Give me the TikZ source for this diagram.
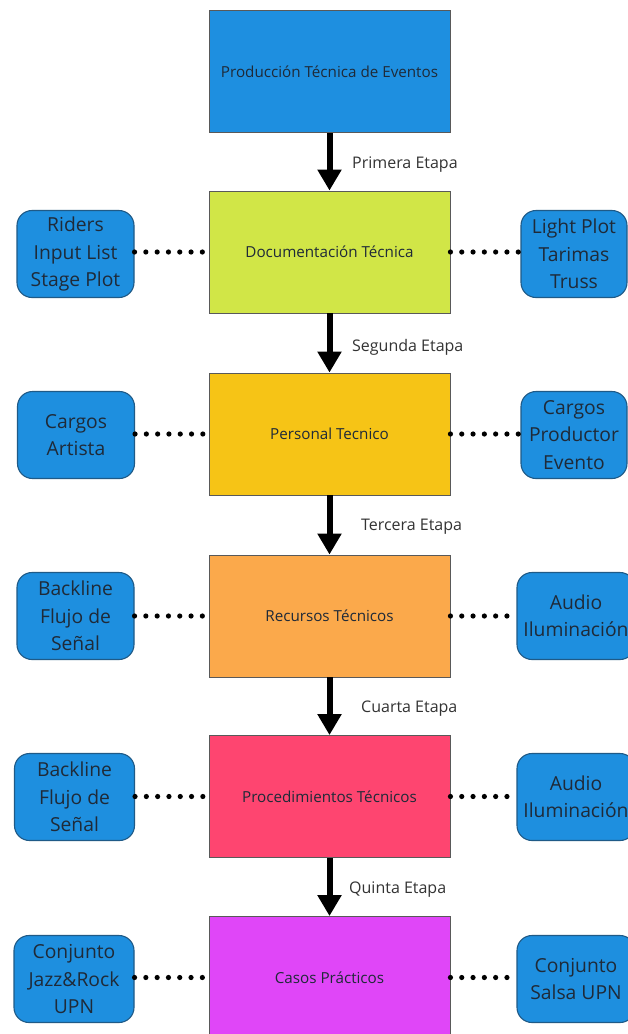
\documentclass[tikz,border=0pt]{standalone}
\usepackage{fontspec}
\setmainfont{Open Sans}
\usetikzlibrary{arrows.meta}
\definecolor{cA}{HTML}{1E8FE0}
\definecolor{cB}{HTML}{D1E647}
\definecolor{cC}{HTML}{F6C416}
\definecolor{cD}{HTML}{FBA94B}
\definecolor{cE}{HTML}{FE4570}
\definecolor{cF}{HTML}{E046F8}
\definecolor{side}{HTML}{1E8FDF}
\definecolor{sideline}{HTML}{1F5A87}
\definecolor{txt}{HTML}{1F2A38}
\tikzset{
  mainbox/.style={draw=black!65, line width=0.9pt, minimum width=241pt, minimum height=122pt, inner sep=0pt, text=txt, font=\fontsize{15.2}{18}\selectfont},
  sidebox/.style={draw=sideline, fill=side, line width=1.1pt, rounded corners=15pt, minimum height=87pt, inner sep=0pt, align=center, text=txt, font=\fontsize{19.3}{27.5}\selectfont},
  lbl/.style={anchor=west, inner sep=0pt, text=black!80, font=\fontsize{16}{18}\selectfont},
  bigarrow/.style={line width=6pt, -{Triangle[width=23pt,length=21pt]}},
  dotline/.style={line width=5.2pt, line cap=round, dash pattern=on 0pt off 11.3pt}
}
\begin{document}
\begin{tikzpicture}[x=1pt,y=1pt]
\path[use as bounding box] (0,0) rectangle (628,-1034);
\clip (0,0) rectangle (628,-1034);
\fill[white] (0,0) rectangle (628,-1034);
% main boxes
\node[mainbox, fill=cA] (m1) at (329.5,-71.5) {Producción Técnica de Eventos};
\node[mainbox, fill=cB] (m2) at (329.5,-252) {Documentación Técnica};
\node[mainbox, fill=cC] (m3) at (329.5,-434) {Personal Tecnico};
\node[mainbox, fill=cD] (m4) at (329.5,-616) {Recursos Técnicos};
\node[mainbox, fill=cE] (m5) at (329.5,-796.5) {Procedimientos Técnicos};
\node[mainbox, fill=cF] (m6) at (329.5,-977.5) {Casos Prácticos};
% arrows
\draw[bigarrow] (m1.south) -- (m2.north);
\draw[bigarrow] (m2.south) -- (m3.north);
\draw[bigarrow] (m3.south) -- (m4.north);
\draw[bigarrow] (m4.south) -- (m5.north);
\draw[bigarrow] (m5.south) -- (m6.north);
% stage labels
\node[lbl] (e1) at (352,-165) {Primera Etapa};
\node[lbl] (e2) at (352,-347) {Segunda Etapa};
\node[lbl] (e3) at (361,-527) {Tercera Etapa};
\node[lbl] (e4) at (361,-709) {Cuarta Etapa};
\node[lbl] (e5) at (349,-890) {Quinta Etapa};
% left side boxes
\node[sidebox, minimum width=117pt] (l2) at (75.5,-254) {Riders\\Input List\\Stage Plot};
\node[sidebox, minimum width=117pt] (l3) at (76,-435) {Cargos\\Artista};
\node[sidebox, minimum width=117pt] (l4) at (75.5,-616) {Backline\\Flujo de\\Señal};
\node[sidebox, minimum width=120pt] (l5) at (74.5,-797) {Backline\\Flujo de\\Señal};
\node[sidebox, minimum width=120pt] (l6) at (74,-979) {Conjunto\\Jazz\&Rock\\UPN};
% right side boxes
\node[sidebox, minimum width=106pt] (r2) at (574,-254) {Light Plot\\Tarimas\\Truss};
\node[sidebox, minimum width=106pt] (r3) at (574,-435) {Cargos\\Productor\\Evento};
\node[sidebox, minimum width=118pt] (r4) at (576,-616) {Audio\\Iluminación};
\node[sidebox, minimum width=118pt] (r5) at (576,-797) {Audio\\Iluminación};
\node[sidebox, minimum width=118pt] (r6) at (576,-979) {Conjunto\\Salsa UPN};
% dotted connectors
\draw[dotline] (l2.east |- m2.west) -- (m2.west);
\draw[dotline] (l3.east |- m3.west) -- (m3.west);
\draw[dotline] (l4.east |- m4.west) -- (m4.west);
\draw[dotline] (l5.east |- m5.west) -- (m5.west);
\draw[dotline] (l6.east |- m6.west) -- (m6.west);
\draw[dotline] (m2.east) -- (r2.west |- m2.east);
\draw[dotline] (m3.east) -- (r3.west |- m3.east);
\draw[dotline] (m4.east) -- (r4.west |- m4.east);
\draw[dotline] (m5.east) -- (r5.west |- m5.east);
\draw[dotline] (m6.east) -- (r6.west |- m6.east);
\end{tikzpicture}
\end{document}
